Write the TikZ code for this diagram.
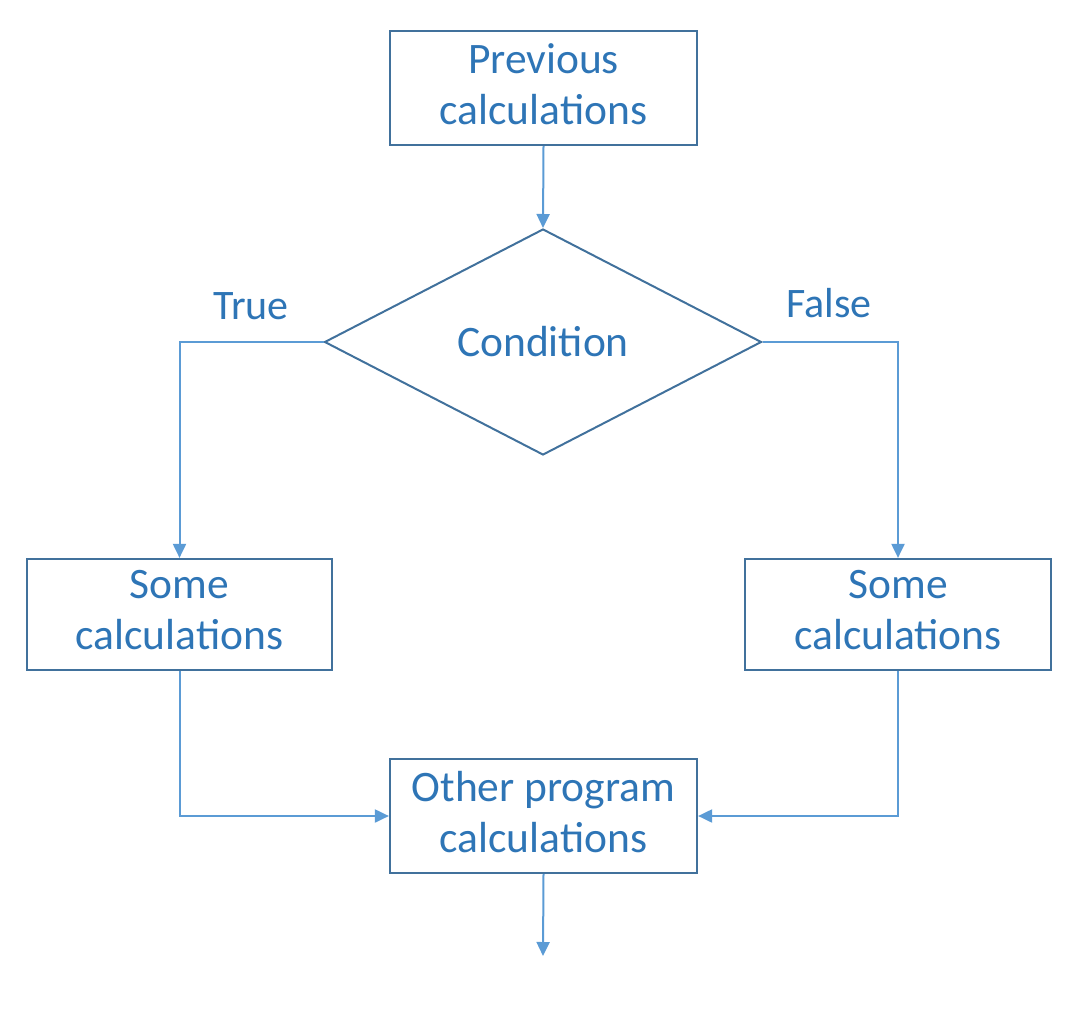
\documentclass[tikz,border=0pt]{standalone}
\usepackage{fontspec}
\setmainfont{Carlito}
\usetikzlibrary{arrows.meta,shapes.geometric}
\definecolor{txt}{HTML}{2E75B6}
\definecolor{bord}{HTML}{41719C}
\definecolor{arr}{HTML}{5B9BD5}
\tikzset{
  box/.style={draw=bord, line width=2.2pt, minimum width=307pt, minimum height=114pt, inner sep=0pt},
  btext/.style={text=txt, align=center, inner sep=0pt, font=\fontsize{43.5}{51}\selectfont},
  dia/.style={diamond, draw=bord, line width=2pt, text=txt, minimum width=437pt, minimum height=226pt, inner sep=0pt, aspect=1.93, font=\fontsize{43.5}{51}\selectfont},
  lbl/.style={text=txt, inner sep=0pt, font=\fontsize{42}{50}\selectfont},
  conn/.style={draw=arr, line width=2pt, -{Triangle[length=14pt,width=13pt]}}
}
\begin{document}
\begin{tikzpicture}[x=1pt,y=-1pt]
\useasboundingbox (0,0) rectangle (1070,1016);
\node[box] (prev) at (543.5,88) {};
\node[btext] (prevt) at ([yshift=4pt]prev.center) {Previous\\calculations};
\node[dia] (cond) at (543,342) {Condition};
\node[box, minimum width=305pt, minimum height=111pt] (left) at (179.5,614.5) {};
\node[btext] (leftt) at ([yshift=4pt]left.center) {Some\\calculations};
\node[box, minimum width=306pt, minimum height=111pt] (right) at (898,614.5) {};
\node[btext] (rightt) at ([yshift=4pt]right.center) {Some\\calculations};
\node[box] (other) at (543.5,816) {};
\node[btext] (othert) at ([yshift=4pt]other.center) {Other program\\calculations};
\coordinate (end) at (543,956);
\node[lbl] (true) at (251,306) {True};
\node[lbl] (false) at (829,303) {False};
\draw[conn] (prev.south) -- (cond.north);
\draw[conn] (cond.west) -| (left.north);
\draw[conn] (cond.east) -| (right.north);
\draw[conn] (left.south) |- (other.west);
\draw[conn] (right.south) |- (other.east);
\draw[conn] (other.south) -- (end);
\end{tikzpicture}
\end{document}
